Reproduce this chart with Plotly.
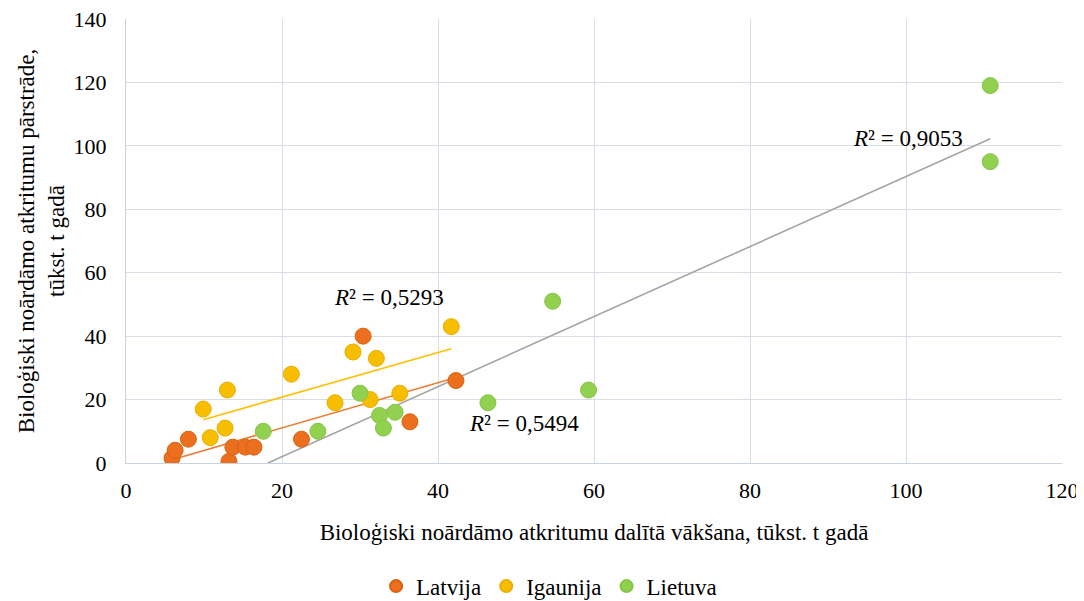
import numpy as np
import plotly.graph_objects as go

# Data
lat_x = [5.9, 6.3, 8.0, 13.2, 13.7, 15.3, 16.4, 22.5, 30.4, 36.4, 42.3]
lat_y = [1.5, 4.0, 7.5, 0.5, 5.0, 5.0, 5.0, 7.5, 40.0, 13.0, 26.0]
ig_x = [9.9, 13.0, 10.8, 12.7, 21.2, 26.8, 29.1, 32.1, 31.3, 35.1, 41.7]
ig_y = [17.0, 23.0, 8.0, 11.0, 28.0, 19.0, 35.0, 33.0, 20.0, 22.0, 43.0]
lt_x = [17.6, 24.6, 30.0, 32.5, 34.5, 33.0, 46.4, 54.7, 59.3, 110.8, 110.8]
lt_y = [10.0, 10.0, 22.0, 15.0, 16.0, 11.0, 19.0, 51.0, 23.0, 119.0, 95.0]

series_names = ["Latvija", "Igaunija", "Lietuva"]
x_ticks = [0, 20, 40, 60, 80, 100, 120]
y_ticks = [0, 20, 40, 60, 80, 100, 120, 140]

marker_colors = ["#EC6F1F", "#F7BE00", "#92D050"]
border_colors = ["#D8620F", "#E8AE00", "#86C444"]
trend_colors = ["#EE7D31", "#FFC000", "#A5A5A5"]

FONT = "Liberation Serif, Times New Roman, serif"

fig = go.Figure()

data = [(lat_x, lat_y), (ig_x, ig_y), (lt_x, lt_y)]

# trendlines (drawn under markers)
for (xs, ys), col in zip(data, trend_colors):
    xs_a = np.array(xs); ys_a = np.array(ys)
    k, b = np.polyfit(xs_a, ys_a, 1)
    x0, x1 = xs_a.min(), xs_a.max()
    if k * x0 + b < 0:
        x0 = -b / k
    fig.add_trace(go.Scatter(x=[x0, x1], y=[k * x0 + b, k * x1 + b], mode="lines",
                             line=dict(color=col, width=1.6), showlegend=False,
                             hoverinfo="skip"))

for (xs, ys), name, mc, bc in zip(data, series_names, marker_colors, border_colors):
    fig.add_trace(go.Scatter(x=xs, y=ys, mode="markers", name=name,
                             marker=dict(size=16, color=mc, line=dict(color=bc, width=1))))

ann_font = dict(family=FONT, size=23, color="#000000")
fig.add_annotation(x=33.7, y=52.3, text="<i>R</i>² = 0,5293", showarrow=False, font=ann_font)
fig.add_annotation(x=51.0, y=12.3, text="<i>R</i>² = 0,5494", showarrow=False, font=ann_font)
fig.add_annotation(x=100.3, y=102.4, text="<i>R</i>² = 0,9053", showarrow=False, font=ann_font)

grid = "#D9DEE6"
fig.update_layout(
    width=1084, height=601,
    margin=dict(l=118, r=30, t=11, b=146),
    paper_bgcolor="white", plot_bgcolor="white",
    font=dict(family=FONT, size=23, color="#000000"),
    xaxis=dict(range=[0, 120], tickvals=x_ticks, showgrid=True, gridcolor=grid, gridwidth=1,
               showline=True, linecolor="#C9D2E0", linewidth=1, zeroline=False,
               ticks="", tickfont=dict(size=22), ticklabelstandoff=8, automargin=False,
               ticklabeloverflow="allow",
               title=dict(text="Bioloģiski noārdāmo atkritumu dalītā vākšana, tūkst. t gadā",
                          font=dict(size=23), standoff=21)),
    yaxis=dict(range=[0, 140], tickvals=y_ticks, showgrid=True, gridcolor=grid, gridwidth=1,
               showline=True, linecolor="#C9D2E0", linewidth=1, zeroline=False,
               ticks="", tickfont=dict(size=22), ticklabelstandoff=14, automargin=False,
               ticklabeloverflow="allow",
               title=dict(text="Bioloģiski noārdāmo atkritumu pārstrāde,<br>tūkst. t gadā",
                          font=dict(size=23), standoff=2)),
    legend=dict(orientation="h", xref="paper", x=0.452, xanchor="center",
                yref="container", y=0.038, yanchor="middle",
                font=dict(size=23), itemsizing="constant", traceorder="normal",
                itemwidth=30),
)

fig.write_html("out.html")
